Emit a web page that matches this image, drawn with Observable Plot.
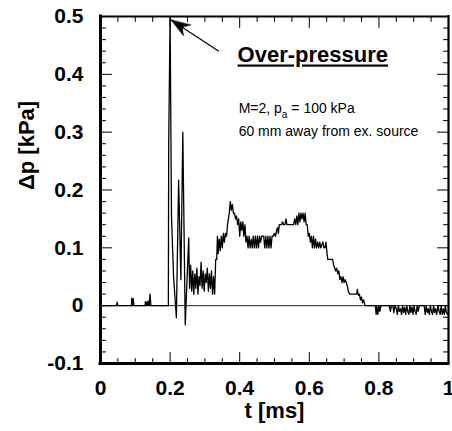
<!DOCTYPE html>
<html>
<head>
<meta charset="utf-8">
<script src="https://cdn.jsdelivr.net/npm/d3@7"></script>
<script src="https://cdn.jsdelivr.net/npm/@observablehq/plot@0.6"></script>
<style>
  html, body { margin: 0; padding: 0; background: #fff; }
  #chart svg { overflow: visible; }
</style>
</head>
<body>
<div id="chart"></div>
<script>
// ---- data ----
// pressure trace: [t (ms), Δp (kPa)]
const signal = [
  [0,0],[0.046,0],[0.048,0.006],[0.05,0],[0.089,0],[0.09,0.013],[0.092,0],[0.094,0.012],[0.096,0],
  [0.128,0],[0.129,0.007],[0.131,0],[0.134,0.007],[0.136,0],[0.138,0.008],[0.14,0],[0.142,0.02],[0.145,0],
  [0.195,0],[0.196,0.28],[0.2,0.5],[0.204,0.155],[0.21,0.05],[0.218,-0.021],[0.2245,0.217],[0.231,0.045],
  [0.2365,0.30],[0.2435,-0.033],[0.2535,0.117],
  [0.256,0.03],[0.259,0.07],[0.262,0.025],[0.265,0.06],[0.268,0.02],[0.271,0.055],[0.274,0.03],[0.277,0.065],
  [0.28,0.02],[0.283,0.05],[0.286,0.035],[0.289,0.075],[0.292,0.03],[0.295,0.06],[0.298,0.025],[0.301,0.055],
  [0.304,0.04],[0.307,0.065],[0.31,0.025],[0.313,0.055],[0.316,0.03],[0.319,0.06],[0.322,0.02],[0.325,0.05],
  [0.328,0.02],[0.331,0.08],[0.334,0.08],[0.336,0.12],[0.338,0.09],[0.341,0.115],[0.344,0.095],[0.347,0.12],
  [0.35,0.1],[0.353,0.125],[0.356,0.11],[0.359,0.125],[0.362,0.12],[0.365,0.14],[0.37,0.16],[0.373,0.18],
  [0.376,0.165],[0.379,0.175],[0.382,0.16],[0.385,0.16],[0.388,0.15],[0.391,0.155],[0.394,0.14],[0.397,0.15],
  [0.4,0.12],[0.403,0.145],[0.406,0.13],[0.409,0.145],[0.412,0.12],[0.415,0.14],[0.418,0.11],[0.421,0.12],
  [0.424,0.10],[0.427,0.12],[0.43,0.10],[0.433,0.115],[0.436,0.10],[0.439,0.12],[0.442,0.10],[0.445,0.12],
  [0.448,0.10],[0.451,0.12],[0.454,0.10],[0.457,0.12],[0.46,0.11],[0.463,0.12],[0.466,0.12],[0.469,0.12],
  [0.472,0.10],[0.475,0.12],[0.478,0.10],[0.481,0.12],[0.484,0.10],[0.487,0.12],[0.49,0.10],[0.493,0.12],
  [0.496,0.12],[0.5,0.125],[0.503,0.12],[0.506,0.13],[0.509,0.135],[0.511,0.125],[0.514,0.14],[0.52,0.14],
  [0.523,0.145],[0.526,0.14],[0.53,0.14],[0.533,0.15],[0.536,0.14],[0.555,0.14],[0.558,0.15],[0.561,0.14],
  [0.564,0.155],[0.567,0.14],[0.57,0.16],[0.573,0.145],[0.576,0.16],[0.579,0.15],[0.582,0.16],[0.585,0.145],
  [0.588,0.16],[0.591,0.14],[0.594,0.14],[0.597,0.12],[0.6,0.125],[0.603,0.11],[0.606,0.12],[0.609,0.10],
  [0.612,0.12],[0.615,0.10],[0.618,0.115],[0.621,0.10],[0.624,0.11],[0.627,0.10],[0.63,0.11],[0.633,0.10],
  [0.636,0.105],[0.639,0.11],[0.642,0.10],[0.645,0.10],[0.648,0.11],[0.651,0.09],[0.653,0.08],[0.667,0.08],
  [0.67,0.07],[0.673,0.065],[0.676,0.06],[0.679,0.065],[0.682,0.055],[0.685,0.06],[0.688,0.045],[0.691,0.05],
  [0.694,0.04],[0.697,0.05],[0.7,0.04],[0.703,0.045],[0.706,0.04],[0.709,0.035],[0.712,0.025],[0.716,0.02],
  [0.736,0.02],[0.738,0.028],[0.741,0.018],[0.744,0.02],[0.747,0.01],[0.75,0.015],[0.753,0.005],[0.756,0.01],
  [0.76,0],[0.79,0],[0.792,-0.015],[0.794,0],[0.797,-0.015],[0.8,0],[0.803,-0.01],[0.806,0],[0.83,0],
  [0.833,-0.01],[0.836,0],[0.84,0],[0.843,-0.012],[0.846,0],[0.85,-0.005],[0.853,-0.015],[0.856,0],
  [0.859,-0.01],[0.862,-0.005],[0.865,-0.015],[0.868,0],[0.871,-0.012],[0.874,-0.003],[0.877,-0.015],[0.88,0],
  [0.883,-0.01],[0.886,-0.015],[0.889,0],[0.892,-0.012],[0.895,-0.002],[0.898,-0.015],[0.901,0],[0.904,-0.01],
  [0.907,-0.015],[0.91,0],[0.913,-0.01],[0.916,0],[0.93,0],[0.933,-0.015],[0.936,0],[0.939,-0.012],
  [0.942,-0.005],[0.945,-0.015],[0.948,0],[0.951,-0.01],[0.954,-0.015],[0.957,0],[0.96,-0.012],[0.963,-0.005],
  [0.966,-0.015],[0.97,0],[0.973,-0.01],[0.976,-0.015],[0.979,0],[0.982,-0.015],[0.985,-0.005],[0.988,-0.015],
  [0.991,0],[0.994,-0.012],[0.997,-0.015],[1.0,-0.01]
];

// axes
const xDomain = [0, 1];
const yDomain = [-0.1, 0.5];
const xMajor = [0, 0.2, 0.4, 0.6, 0.8, 1];
const xTickLabels = ["0", "0.2", "0.4", "0.6", "0.8", "1"];
const xMinor = [0.05,0.1,0.15,0.25,0.3,0.35,0.45,0.5,0.55,0.65,0.7,0.75,0.85,0.9,0.95];
const yMajor = [-0.1, 0, 0.1, 0.2, 0.3, 0.4, 0.5];
const yTickLabels = ["-0.1", "0", "0.1", "0.2", "0.3", "0.4", "0.5"];
const yMinor = [-0.08,-0.06,-0.04,-0.02,0.02,0.04,0.06,0.08,0.12,0.14,0.16,0.18,0.22,0.24,0.26,0.28,
                0.32,0.34,0.36,0.38,0.42,0.44,0.46,0.48];
const xLabel = "t [ms]";
const yLabel = "Δp [kPa]";

// annotations (data coordinates)
const arrowTail = [0.340, 0.440];
const arrowTip = [0.203, 0.494];
const titleNote = {text: "Over-pressure", x: 0.394, y: 0.4205};
const noteParts = ["M=2, p", "a", " = 100 kPa"];
const notePos = [0.397, 0.3335];
const note2 = {text: "60 mm away from ex. source", x: 0.397, y: 0.294};

// ---- chart ----
const W = 452, H = 431, mL = 100, mR = 4, mT = 16, mB = 68;
const data = signal.map(([t, v]) => ({t, v}));

const tickShape = {draw(ctx, l) { ctx.moveTo(0, 0); ctx.lineTo(0, -l); }};
const headShape = {draw(ctx, l) {
  ctx.moveTo(0, -l); ctx.lineTo(-6.5, 0); ctx.lineTo(0, -l * 0.3); ctx.lineTo(6.5, 0); ctx.closePath();
}};
// screen-space direction of the arrow
const kx = (W - mL - mR) / (xDomain[1] - xDomain[0]);
const ky = (H - mT - mB) / (yDomain[1] - yDomain[0]);
const adx = (arrowTip[0] - arrowTail[0]) * kx;
const ady = -(arrowTip[1] - arrowTail[1]) * ky;
const headRot = Math.atan2(adx, -ady) * 180 / Math.PI;

const tickV = (vals, opts) => Plot.vector(vals, {anchor: "start", shape: tickShape, stroke: "black", strokeWidth: 1, ...opts});

const chart = Plot.plot({
  width: W, height: H,
  marginLeft: mL, marginRight: mR, marginTop: mT, marginBottom: mB,
  x: {domain: xDomain},
  y: {domain: yDomain},
  style: {fontFamily: "'Liberation Sans', Arial, sans-serif", fontSize: "21px", fontWeight: "bold", color: "black", background: "white", overflow: "visible"},
  marks: [
    Plot.ruleY([0], {stroke: "#222", strokeWidth: 1}),
    Plot.line(data, {x: "t", y: "v", stroke: "black", strokeWidth: 1.3, clip: true}),
    // inward ticks
    tickV(xMinor, {x: d => d, frameAnchor: "bottom", length: 5, rotate: 0}),
    tickV(xMajor, {x: d => d, frameAnchor: "bottom", length: 11, rotate: 0}),
    tickV(xMinor, {x: d => d, frameAnchor: "top", length: 5, rotate: 180}),
    tickV(xMajor, {x: d => d, frameAnchor: "top", length: 11, rotate: 180}),
    tickV(yMinor, {y: d => d, frameAnchor: "left", length: 5, rotate: 90}),
    tickV(yMajor, {y: d => d, frameAnchor: "left", length: 11, rotate: 90}),
    tickV(yMinor, {y: d => d, frameAnchor: "right", length: 5, rotate: 270}),
    tickV(yMajor, {y: d => d, frameAnchor: "right", length: 11, rotate: 270}),
    // frame
    Plot.ruleX([xDomain[0]], {stroke: "black", strokeWidth: 3, strokeLinecap: "square"}),
    Plot.ruleY([yDomain[0]], {stroke: "black", strokeWidth: 3, strokeLinecap: "square"}),
    Plot.ruleX([xDomain[1]], {stroke: "black", strokeWidth: 2.2, strokeLinecap: "square"}),
    Plot.ruleY([yDomain[1]], {stroke: "black", strokeWidth: 2.2, strokeLinecap: "square"}),
    // tick labels
    Plot.axisX(xMajor, {tickSize: 0, tickPadding: 17, tickFormat: (d, i) => xTickLabels[i], fontSize: 21, fontWeight: "bold", label: null}),
    Plot.axisY(yMajor, {tickSize: 0, tickPadding: 17, tickFormat: (d, i) => yTickLabels[i], fontSize: 21, fontWeight: "bold", label: null}),
    // axis titles
    Plot.text([xLabel], {frameAnchor: "bottom", lineAnchor: "bottom", dy: 54, fontSize: 22, fontWeight: "bold", fill: "black"}),
    Plot.text([yLabel], {frameAnchor: "left", rotate: -90, lineAnchor: "middle", dx: -74, fontSize: 22, fontWeight: "bold", fill: "black"}),
    // arrow
    Plot.link([0], {x1: arrowTail[0], y1: arrowTail[1], x2: arrowTip[0], y2: arrowTip[1], stroke: "black", strokeWidth: 1.2}),
    Plot.vector([0], {x: arrowTip[0], y: arrowTip[1], length: 19, rotate: headRot, anchor: "end", shape: headShape, fill: "black", stroke: "black", strokeWidth: 0.5}),
    // notes
    Plot.text([titleNote], {x: "x", y: "y", text: "text", textAnchor: "start", lineAnchor: "bottom", fontSize: 22, fontWeight: "bold", fill: "black"}),
    Plot.text([noteParts.join("")], {x: notePos[0], y: notePos[1], textAnchor: "start", lineAnchor: "bottom", fontSize: 14, fontWeight: "normal", fill: "black"}),
    Plot.text([note2], {x: "x", y: "y", text: "text", textAnchor: "start", lineAnchor: "bottom", fontSize: 14, fontWeight: "normal", fill: "black"})
  ]
});

// subscript for p_a, underline for the heading
chart.querySelectorAll("text").forEach(el => {
  if (el.textContent === noteParts.join("")) {
    el.textContent = "";
    const ns = "http://www.w3.org/2000/svg";
    const a = document.createElementNS(ns, "tspan"); a.textContent = noteParts[0];
    const b = document.createElementNS(ns, "tspan"); b.textContent = noteParts[1];
    b.setAttribute("font-size", "10"); b.setAttribute("dy", "5");
    const c = document.createElementNS(ns, "tspan"); c.textContent = noteParts[2];
    c.setAttribute("dy", "-5");
    el.append(a, b, c);
  }
  if (el.textContent === titleNote.text) el.setAttribute("text-decoration", "underline");
});

document.getElementById("chart").append(chart);
</script>
</body>
</html>
